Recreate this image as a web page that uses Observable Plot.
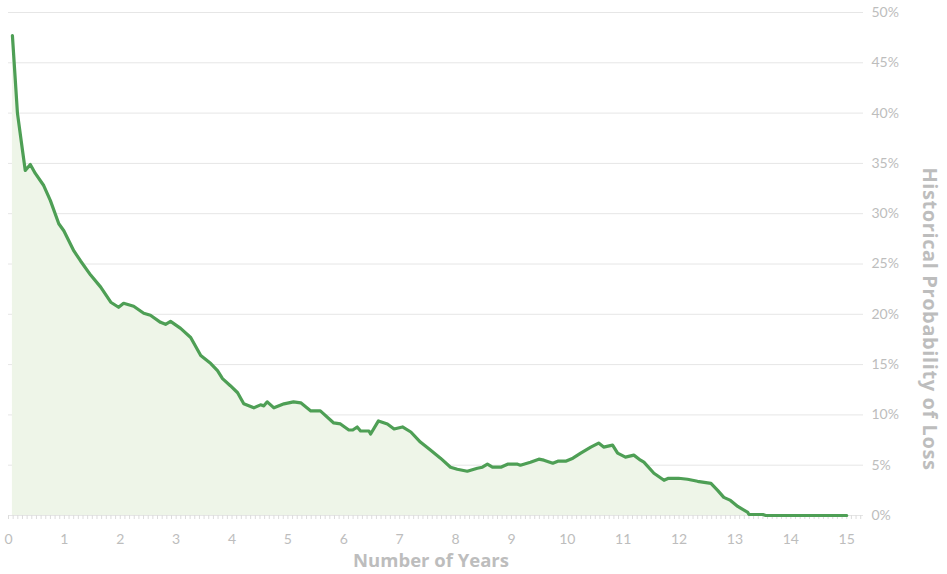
<!DOCTYPE html>
<html>
<head>
<meta charset="utf-8">
<script src="https://cdn.jsdelivr.net/npm/d3@7"></script>
<script src="https://cdn.jsdelivr.net/npm/@observablehq/plot@0.6"></script>
<style>
  html, body { margin: 0; padding: 0; background: #fff; }
  #chart { width: 947px; height: 574px; }
</style>
</head>
<body>
<div id="chart"></div>
<script>
// Number of years invested
const years = [0.07,0.16,0.25,0.30,0.39,0.48,0.63,0.75,0.90,0.99,1.17,1.29,1.47,1.65,1.83,1.97,2.06,2.24,2.42,2.54,2.72,2.81,2.90,3.08,3.26,3.44,3.62,3.74,3.83,3.97,4.10,4.21,4.39,4.51,4.57,4.63,4.75,4.93,5.10,5.23,5.41,5.58,5.82,5.94,6.09,6.16,6.24,6.30,6.45,6.48,6.62,6.78,6.90,7.05,7.20,7.37,7.55,7.73,7.91,8.03,8.21,8.39,8.48,8.57,8.66,8.81,8.93,9.11,9.16,9.34,9.49,9.58,9.74,9.83,9.97,10.10,10.24,10.42,10.56,10.65,10.81,10.90,11.04,11.19,11.31,11.37,11.55,11.73,11.81,11.99,12.15,12.33,12.57,12.69,12.80,12.92,13.05,13.23,13.25,13.50,13.55,14.0,14.5,15.0];
// Historical probability of loss (%)
const probs = [47.7,40.0,36.3,34.3,34.9,34.0,32.8,31.3,29.0,28.3,26.3,25.3,23.9,22.7,21.2,20.7,21.1,20.8,20.1,19.9,19.2,19.0,19.3,18.6,17.7,15.9,15.1,14.4,13.6,12.9,12.2,11.1,10.7,11.0,10.9,11.3,10.7,11.1,11.3,11.2,10.4,10.4,9.2,9.1,8.5,8.5,8.8,8.4,8.4,8.1,9.4,9.1,8.6,8.8,8.3,7.3,6.5,5.7,4.8,4.6,4.4,4.7,4.8,5.1,4.8,4.8,5.1,5.1,5.0,5.3,5.6,5.5,5.2,5.4,5.4,5.7,6.2,6.8,7.2,6.8,7.0,6.2,5.8,6.0,5.5,5.3,4.2,3.5,3.7,3.7,3.6,3.4,3.2,2.5,1.8,1.5,0.9,0.3,0.1,0.1,0.0,0.0,0.0,0.0];
// Tick labels
const yTicks = [0,5,10,15,20,25,30,35,40,45,50];
const xTicks = [0,1,2,3,4,5,6,7,8,9,10,11,12,13,14,15];
const monthTicks = d3.range(0, 15.3, 1/12);

const data = years.map((x, i) => ({x, y: probs[i]}));

const gray = "#bdbdbd";
const chart = Plot.plot({
  width: 947,
  height: 574,
  marginTop: 12,
  marginBottom: 59,
  marginLeft: 8,
  marginRight: 84,
  style: {fontFamily: "Lato, 'Open Sans', sans-serif", background: "#fff"},
  x: {domain: [0, 15.3]},
  y: {domain: [0, 50]},
  marks: [
    Plot.gridY(yTicks, {stroke: "#e6e6e6", strokeOpacity: 1, strokeWidth: 1}),
    Plot.areaY(data, {x: "x", y: "y", fill: "#eef5e8", fillOpacity: 1}),
    Plot.axisX(monthTicks, {tickSize: 4, text: null, stroke: "#dcdcdc", label: null}),
    Plot.axisX(xTicks, {tickSize: 0, tickPadding: 19, fontSize: 14, fill: gray, label: null}),
    Plot.axisY(yTicks, {anchor: "right", tickSize: 0, tickPadding: 8, fontSize: 14, fill: gray, tickFormat: d => d + "%", label: null}),
    Plot.lineY(data, {x: "x", y: "y", stroke: "#4e9f55", strokeWidth: 3.2, strokeLinejoin: "round", strokeLinecap: "round"}),
    Plot.text(["Number of Years"], {frameAnchor: "bottom", lineAnchor: "middle", textAnchor: "middle", dx: -5, dy: 46, fontSize: 18.5, fontWeight: "bold", fill: gray, fontFamily: "'Open Sans', sans-serif"}),
    Plot.text(["Historical Probability of Loss"], {frameAnchor: "right", lineAnchor: "middle", textAnchor: "middle", rotate: 90, dx: 66, dy: 55, fontSize: 20, fontWeight: "bold", fill: gray, fontFamily: "'Open Sans', sans-serif"})
  ]
});
d3.select(chart).selectAll("text")
  .filter(function() { return this.textContent === "Historical Probability of Loss"; })
  .style("letter-spacing", "0.6px");
document.getElementById("chart").appendChild(chart);
</script>
</body>
</html>
